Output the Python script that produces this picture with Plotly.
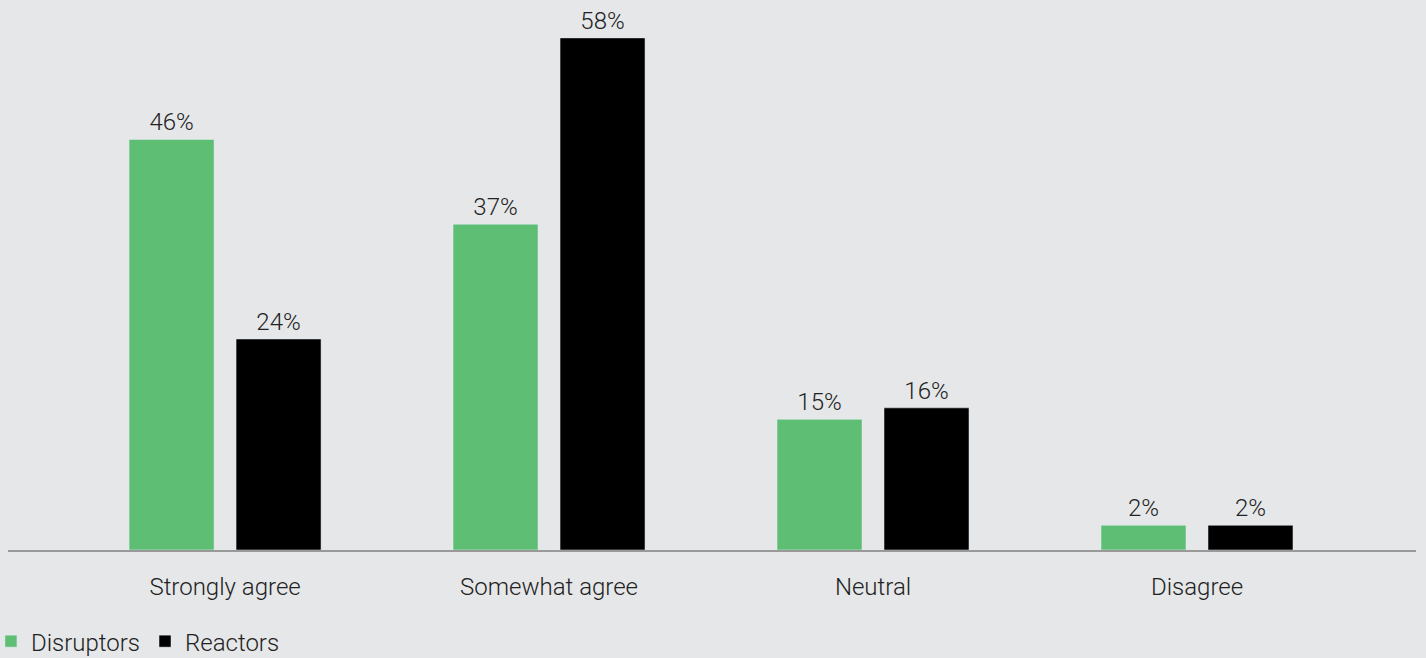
import plotly.graph_objects as go

categories = ["Strongly agree", "Somewhat agree", "Neutral", "Disagree"]
# bar heights
disruptors = [46.5, 36.9, 14.8, 2.8]
reactors = [23.9, 58.0, 16.1, 2.8]
# printed data labels
disruptors_labels = ["46%", "37%", "15%", "2%"]
reactors_labels = ["24%", "58%", "16%", "2%"]

BG = "#e6e7e9"
GREEN = "#5dbe74"
FONT = dict(family="Roboto", size=24, color="#222222", weight=300)

fig = go.Figure()
fig.add_trace(go.Bar(x=categories, y=disruptors, name="Disruptors", marker_color=GREEN,
                     text=disruptors_labels, texttemplate="%{text}", textposition="outside",
                     textfont=FONT, cliponaxis=False))
fig.add_trace(go.Bar(x=categories, y=reactors, name="Reactors", marker_color="#000000",
                     text=reactors_labels, texttemplate="%{text}", textposition="outside",
                     textfont=FONT, cliponaxis=False))

fig.update_layout(
    width=1426, height=658,
    paper_bgcolor=BG, plot_bgcolor=BG,
    margin=dict(l=8, r=10, t=3, b=108, autoexpand=False),
    barmode="group", bargap=0.3395, bargroupgap=0.2056,
    font=FONT,
    showlegend=True,
    legend=dict(orientation="h", xref="paper", yref="container",
                x=-0.0121, xanchor="left", y=0.025, yanchor="middle",
                font=FONT, bgcolor="rgba(0,0,0,0)", itemwidth=30, tracegroupgap=0),
    xaxis=dict(range=[-0.67, 3.676], showline=True, linecolor="#999999", linewidth=2,
               ticks="", showgrid=False, zeroline=False, tickfont=FONT, ticklabelstandoff=14,
               automargin=False),
    yaxis=dict(range=[0, 61.95], visible=False, showgrid=False, zeroline=False, automargin=False),
)

fig.write_html("out.html")
